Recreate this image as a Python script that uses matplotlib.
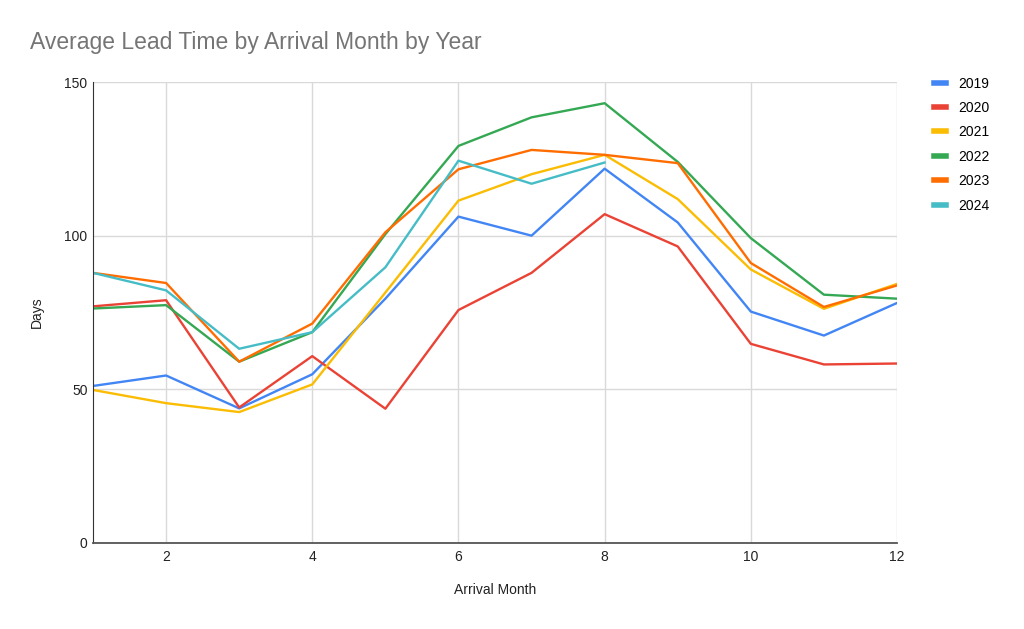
import numpy as np
import matplotlib as mpl
mpl.use('Agg')
import matplotlib.pyplot as plt

plt.rcParams['font.family'] = ['Liberation Sans', 'DejaVu Sans']

months = [1, 2, 3, 4, 5, 6, 7, 8, 9, 10, 11, 12]
years = ['2019', '2020', '2021', '2022', '2023', '2024']

lead_2019 = [51.1, 54.5, 43.8, 54.9, 79.5, 106.2, 100.0, 121.8, 104.3, 75.3, 67.5, 78.1]
lead_2020 = [77.0, 79.0, 44.1, 60.8, 43.7, 75.8, 87.9, 107.0, 96.5, 64.8, 58.1, 58.4]
lead_2021 = [49.8, 45.5, 42.6, 51.6, 81.5, 111.4, 120.0, 126.3, 111.9, 89.0, 76.2, 84.3]
lead_2022 = [76.3, 77.4, 59.0, 68.6, 100.5, 129.2, 138.5, 143.1, 124.0, 99.2, 80.8, 79.5]
lead_2023 = [87.9, 84.6, 59.0, 71.4, 101.1, 121.6, 127.9, 126.3, 123.6, 91.1, 76.8, 83.8]
lead_2024 = [87.9, 82.2, 63.2, 68.6, 89.7, 124.4, 116.9, 123.8]   # no data after Aug

series = [lead_2019, lead_2020, lead_2021, lead_2022, lead_2023, lead_2024]
colors = ['#4285F4', '#EA4335', '#FBBC04', '#34A853', '#FF6D01', '#46BDC6']

fig = plt.figure(figsize=(10.24, 6.29), dpi=100)
ax = fig.add_axes([93/1024, 1 - 543/629, (897-93)/1024, (543-82)/629])

for yr, vals, col in zip(years, series, colors):
    ax.plot(months[:len(vals)], vals, color=col, linewidth=1.7, label=yr)

ax.set_xlim(1, 12)
ax.set_ylim(0, 150)
ax.set_xticks([2, 4, 6, 8, 10, 12])
ax.set_yticks([0, 50, 100, 150])
ax.grid(True, color='#d9d9d9', linewidth=1.0)
ax.set_axisbelow(True)
ax.tick_params(length=0, labelsize=10, colors='#222222')
ax.tick_params(axis='y', pad=4)
ax.tick_params(axis='x', pad=5)
for s in ['top', 'right']:
    ax.spines[s].set_visible(False)
ax.spines['left'].set_color('#333333')
ax.spines['bottom'].set_color('#555555')
ax.spines['bottom'].set_linewidth(1.3)

ax.set_xlabel('Arrival Month', fontsize=10, color='#222222')
ax.set_ylabel('Days', fontsize=10, color='#222222')
ax.xaxis.set_label_coords(0.5, -(590 - 543) / 461, transform=ax.transAxes)
ax.yaxis.set_label_coords(-(93 - 37) / 804, 0.5, transform=ax.transAxes)
ax.xaxis.label.set_va('center')
ax.yaxis.label.set_va('center')

fig.text(30/1024, 1 - 42/629, 'Average Lead Time by Arrival Month by Year',
         fontsize=16.5, color='#757575', va='center', ha='left')

leg = ax.legend(loc='upper left', bbox_to_anchor=(921/1024, 1 - 64/629),
                bbox_transform=fig.transFigure, frameon=False, fontsize=10,
                handlelength=0.9, handletextpad=0.9, labelspacing=0.75)
for h in leg.get_lines():
    h.set_linewidth(4)

plt.savefig('out.png', dpi=100)
